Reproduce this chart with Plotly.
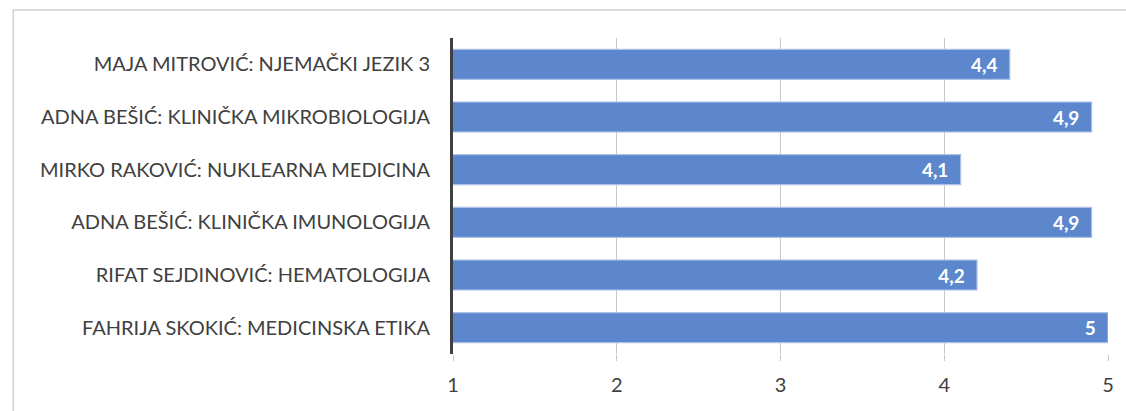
import plotly.graph_objects as go

categories = [
    "MAJA MITROVIĆ: NJEMAČKI JEZIK 3",
    "ADNA BEŠIĆ: KLINIČKA MIKROBIOLOGIJA",
    "MIRKO RAKOVIĆ: NUKLEARNA MEDICINA",
    "ADNA BEŠIĆ: KLINIČKA IMUNOLOGIJA",
    "RIFAT SEJDINOVIĆ: HEMATOLOGIJA",
    "FAHRIJA SKOKIĆ: MEDICINSKA ETIKA",
]
values = [4.4, 4.9, 4.1, 4.9, 4.2, 5]
x_ticks = [1, 2, 3, 4, 5]

labels = [f"{v:g}".replace(".", ",") + "\u00a0\u00a0" for v in values]

W, H = 1126, 411
L, R, T, B = 453, 16, 38, 57
FONT = "Lato"

fig = go.Figure(go.Bar(
    y=categories, x=values, orientation="h",
    marker=dict(color="rgb(92,135,205)", line=dict(color="rgb(170,192,230)", width=1.2)),
    text=labels, textposition="inside", insidetextanchor="end",
    textfont=dict(family=FONT, size=19, color="white", weight="bold"),
    cliponaxis=True,
))

pw = W - L - R
ph = H - T - B
fig.add_shape(type="rect", xref="paper", yref="paper",
              x0=(12 - L) / pw, x1=(1140 - L) / pw,
              y0=-(430 - T - ph) / ph, y1=1 + (T - 10) / ph,
              line=dict(color="#d0d0d0", width=1.5), layer="below")

fig.update_layout(
    width=W, height=H, margin=dict(l=L, r=R, t=T, b=B),
    paper_bgcolor="white", plot_bgcolor="white",
    bargap=0.43, showlegend=False,
    font=dict(family=FONT, color="#404040"),
    xaxis=dict(range=[1, 5], tickvals=x_ticks, showgrid=True, gridcolor="#c8c8c8",
               gridwidth=1, zeroline=False, showline=False,
               tickfont=dict(size=20, color="#404040"), ticklen=6, ticks="outside",
               tickcolor="#c8c8c8", ticklabelstandoff=7),
    yaxis=dict(autorange="reversed", tickfont=dict(size=20, color="#404040"),
               ticks="", showline=True, linecolor="#404040", linewidth=3,
               ticklabelstandoff=16),
)
fig.write_html("out.html", config={"displayModeBar": False},
               post_script="document.body.style.margin='0';document.body.style.overflow='hidden';")
